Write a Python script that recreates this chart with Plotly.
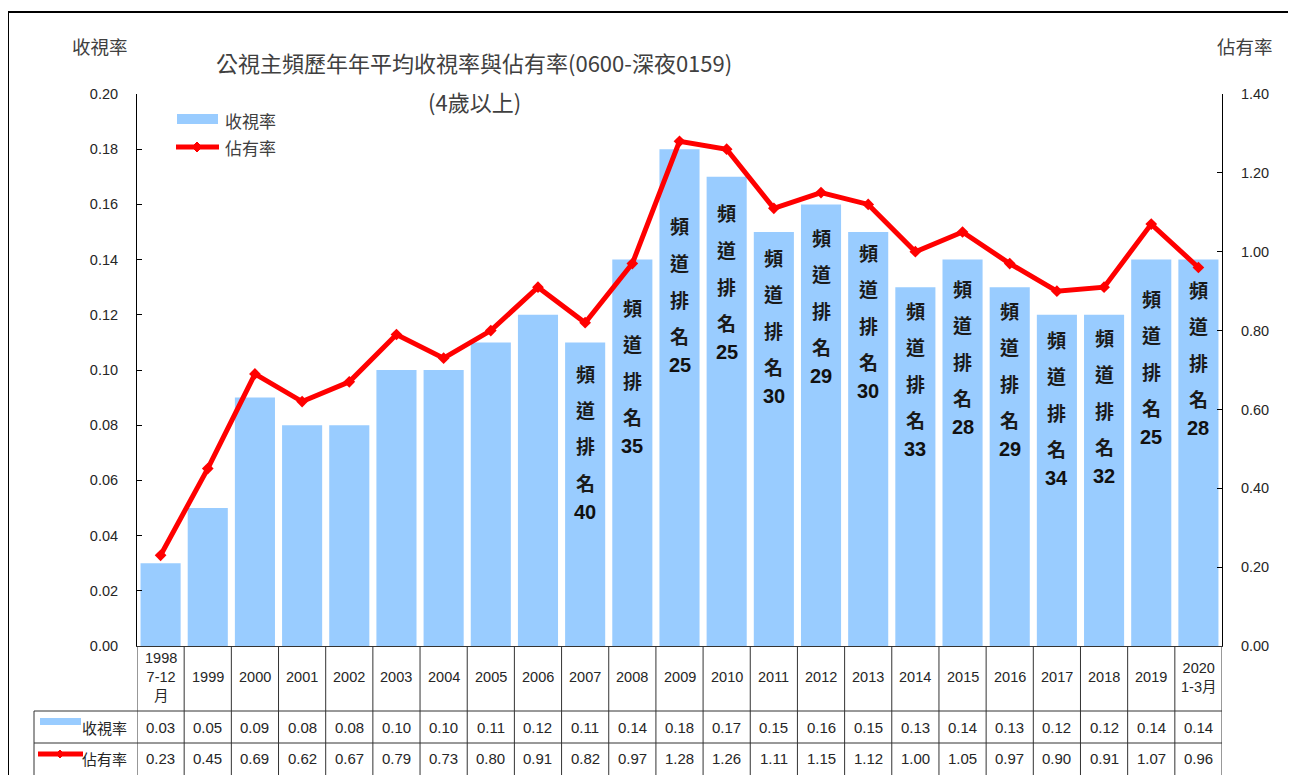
import plotly.graph_objects as go

# ---------------- data ----------------
categories = ["1998<br>7-12<br>月", "1999", "2000", "2001", "2002", "2003", "2004", "2005",
              "2006", "2007", "2008", "2009", "2010", "2011", "2012", "2013", "2014",
              "2015", "2016", "2017", "2018", "2019", "2020<br>1-3月"]
ratings = [0.03, 0.05, 0.09, 0.08, 0.08, 0.10, 0.10, 0.11, 0.12, 0.11, 0.14, 0.18,
           0.17, 0.15, 0.16, 0.15, 0.13, 0.14, 0.13, 0.12, 0.12, 0.14, 0.14]
shares = [0.23, 0.45, 0.69, 0.62, 0.67, 0.79, 0.73, 0.80, 0.91, 0.82, 0.97, 1.28,
          1.26, 1.11, 1.15, 1.12, 1.00, 1.05, 0.97, 0.90, 0.91, 1.07, 0.96]
rank_categories = ["2007", "2008", "2009", "2010", "2011", "2012", "2013", "2014",
                   "2015", "2016", "2017", "2018", "2019", "2020<br>1-3月"]
ranks = [40, 35, 25, 25, 30, 29, 30, 33, 28, 29, 34, 32, 25, 28]

# layout constants (page-pixel positions of the rank label stacks, top character centre)
rank_label_top_px = [373, 307, 226, 213, 257, 237, 252, 310, 288, 310, 339, 337, 298, 289]

OFF = 8  # default page body margin
W_PX, H_PX = 1296 - OFF, 775 - OFF
L, R, T, B = 137, 1222, 94, 646          # page pixel coordinates of plot area
PW, PH = R - L, B - T


def xp(px):
    return (px - L) / PW


def yp(py):
    return (B - py) / PH


NUM_FONT = "Liberation Sans, Arial, Noto Sans CJK TC"
CJK_FONT = "Noto Sans CJK TC, Liberation Sans"
BAR_COLOR = "#99CCFF"
LINE_COLOR = "#FF0000"
TXT = "#262626"
TITLE_C = "#404040"

idx = list(range(len(categories)))

fig = go.Figure()
fig.add_trace(go.Bar(x=idx, y=ratings, name="收視率", marker=dict(color=BAR_COLOR, line=dict(width=0)),
                     yaxis="y", showlegend=False, hoverinfo="y"))
fig.add_trace(go.Scatter(x=idx, y=shares, name="佔有率", mode="lines+markers", yaxis="y2",
                         line=dict(color=LINE_COLOR, width=5),
                         marker=dict(symbol="diamond", size=9, color=LINE_COLOR),
                         showlegend=False))

shapes = []
annotations = []

# outer frame
shapes.append(dict(type="line", xref="paper", yref="paper", x0=xp(8), x1=xp(1310), y0=yp(12), y1=yp(12),
                   line=dict(color="black", width=2)))
shapes.append(dict(type="line", xref="paper", yref="paper", x0=xp(8), x1=xp(8), y0=yp(12), y1=yp(790),
                   line=dict(color="black", width=2)))

# titles
annotations.append(dict(text="公視主頻歷年年平均收視率與佔有率(0600-深夜0159)", xref="paper", yref="paper",
                        x=xp(474), y=yp(62), showarrow=False, xanchor="center", yanchor="middle",
                        font=dict(family=CJK_FONT, size=22, color=TITLE_C)))
annotations.append(dict(text="(4歲以上)", xref="paper", yref="paper",
                        x=xp(474), y=yp(101), showarrow=False, xanchor="center", yanchor="middle",
                        font=dict(family=CJK_FONT, size=22, color=TITLE_C)))
annotations.append(dict(text="收視率", xref="paper", yref="paper", x=xp(100), y=yp(46), showarrow=False,
                        xanchor="center", yanchor="middle", font=dict(family=CJK_FONT, size=18.5, color=TITLE_C)))
annotations.append(dict(text="佔有率", xref="paper", yref="paper", x=xp(1245), y=yp(46), showarrow=False,
                        xanchor="center", yanchor="middle", font=dict(family=CJK_FONT, size=18.5, color=TITLE_C)))

# in-plot legend
shapes.append(dict(type="rect", xref="paper", yref="paper", x0=xp(177), x1=xp(218), y0=yp(124), y1=yp(114),
                   fillcolor=BAR_COLOR, line=dict(width=0)))
shapes.append(dict(type="line", xref="paper", yref="paper", x0=xp(176), x1=xp(219), y0=yp(147), y1=yp(147),
                   line=dict(color=LINE_COLOR, width=5)))


def diamond(cx, cy, r=5):
    return (f"M {xp(cx)},{yp(cy - r)} L {xp(cx + r)},{yp(cy)} L {xp(cx)},{yp(cy + r)} "
            f"L {xp(cx - r)},{yp(cy)} Z")


shapes.append(dict(type="path", xref="paper", yref="paper", path=diamond(197, 147),
                   fillcolor=LINE_COLOR, line=dict(color=LINE_COLOR, width=1)))
annotations.append(dict(text="收視率", xref="paper", yref="paper", x=xp(223), y=yp(120), showarrow=False,
                        xanchor="left", yanchor="middle", font=dict(family=CJK_FONT, size=17, color=TITLE_C)))
annotations.append(dict(text="佔有率", xref="paper", yref="paper", x=xp(223), y=yp(147), showarrow=False,
                        xanchor="left", yanchor="middle", font=dict(family=CJK_FONT, size=17, color=TITLE_C)))

# rank labels stacked vertically on bars
for cat_name, rk, top in zip(rank_categories, ranks, rank_label_top_px):
    ci = categories.index(cat_name)
    for k, ch in enumerate("頻道排名"):
        annotations.append(dict(text=f"<b>{ch}</b>", x=ci, xref="x", yref="paper", y=yp(top + k * 36.5),
                                showarrow=False, xanchor="center", yanchor="middle",
                                font=dict(family="Noto Sans CJK TC", size=19, color="#1a1a1a")))
    annotations.append(dict(text=f"<b>{rk}</b>", x=ci, xref="x", yref="paper", y=yp(top + 139),
                            showarrow=False, xanchor="center", yanchor="middle",
                            font=dict(family="Liberation Sans, Arial", size=20, color="#111111")))

# data table
TBL_LEFT = 34
ROW1, ROW2, ROW3, ROW_END = 646, 711, 743, 790
GRID_C = "#333333"
for i in range(len(categories) + 1):
    shapes.append(dict(type="line", xref="x", yref="paper", x0=i - 0.5, x1=i - 0.5, y0=yp(ROW1), y1=yp(ROW_END),
                       line=dict(color=GRID_C, width=1)))
for yy in (ROW2, ROW3):
    shapes.append(dict(type="line", xref="paper", yref="paper", x0=xp(TBL_LEFT), x1=xp(R), y0=yp(yy), y1=yp(yy),
                       line=dict(color=GRID_C, width=1)))
shapes.append(dict(type="line", xref="paper", yref="paper", x0=xp(TBL_LEFT), x1=xp(TBL_LEFT), y0=yp(ROW2),
                   y1=yp(ROW_END), line=dict(color=GRID_C, width=1)))

# table legend keys
shapes.append(dict(type="rect", xref="paper", yref="paper", x0=xp(40), x1=xp(81), y0=yp(725), y1=yp(718),
                   fillcolor=BAR_COLOR, line=dict(width=0)))
shapes.append(dict(type="line", xref="paper", yref="paper", x0=xp(38), x1=xp(83), y0=yp(754), y1=yp(754),
                   line=dict(color=LINE_COLOR, width=5)))
shapes.append(dict(type="path", xref="paper", yref="paper", path=diamond(60, 754, 4),
                   fillcolor=LINE_COLOR, line=dict(color=LINE_COLOR, width=1)))
annotations.append(dict(text="收視率", xref="paper", yref="paper", x=xp(129), y=yp(727), showarrow=False,
                        xanchor="right", yanchor="middle", font=dict(family=CJK_FONT, size=15, color=TXT)))
annotations.append(dict(text="佔有率", xref="paper", yref="paper", x=xp(129), y=yp(758), showarrow=False,
                        xanchor="right", yanchor="middle", font=dict(family=CJK_FONT, size=15, color=TXT)))

for i, (cat, rv, sv) in enumerate(zip(categories, ratings, shares)):
    annotations.append(dict(text=cat, x=i, xref="x", yref="paper", y=yp(677), showarrow=False,
                            xanchor="center", yanchor="middle",
                            font=dict(family=NUM_FONT, size=14.5, color=TXT)))
    annotations.append(dict(text=f"{rv:.2f}", x=i, xref="x", yref="paper", y=yp(727), showarrow=False,
                            xanchor="center", yanchor="middle",
                            font=dict(family=NUM_FONT, size=15, color=TXT)))
    annotations.append(dict(text=f"{sv:.2f}", x=i, xref="x", yref="paper", y=yp(758), showarrow=False,
                            xanchor="center", yanchor="middle",
                            font=dict(family=NUM_FONT, size=15, color=TXT)))

fig.update_layout(
    width=W_PX, height=H_PX,
    margin=dict(l=L - OFF, r=W_PX - (R - OFF), t=T - OFF, b=H_PX - (B - OFF), pad=0),
    paper_bgcolor="white", plot_bgcolor="white",
    bargap=0.15,
    showlegend=False,
    xaxis=dict(range=[-0.5, len(categories) - 0.5], showticklabels=False, ticks="",
               showline=True, linecolor=GRID_C, linewidth=1, showgrid=False, zeroline=False,
               fixedrange=True),
    yaxis=dict(range=[0, 0.2], dtick=0.02, tick0=0, tickformat=".2f", ticks="inside", ticklen=5,
               tickcolor="black", showline=True, linecolor="black", linewidth=1, showgrid=False,
               zeroline=False, ticklabelstandoff=15,
               tickfont=dict(family=NUM_FONT, size=14.5, color=TXT)),
    yaxis2=dict(range=[0, 1.4], dtick=0.2, tick0=0, tickformat=".2f", ticks="inside", ticklen=5,
                tickcolor="black", showline=True, linecolor="black", linewidth=1, showgrid=False,
                zeroline=False, overlaying="y", side="right", ticklabelstandoff=15,
                tickfont=dict(family=NUM_FONT, size=14.5, color=TXT)),
    shapes=shapes,
    annotations=annotations,
)

fig.write_html("out.html")
